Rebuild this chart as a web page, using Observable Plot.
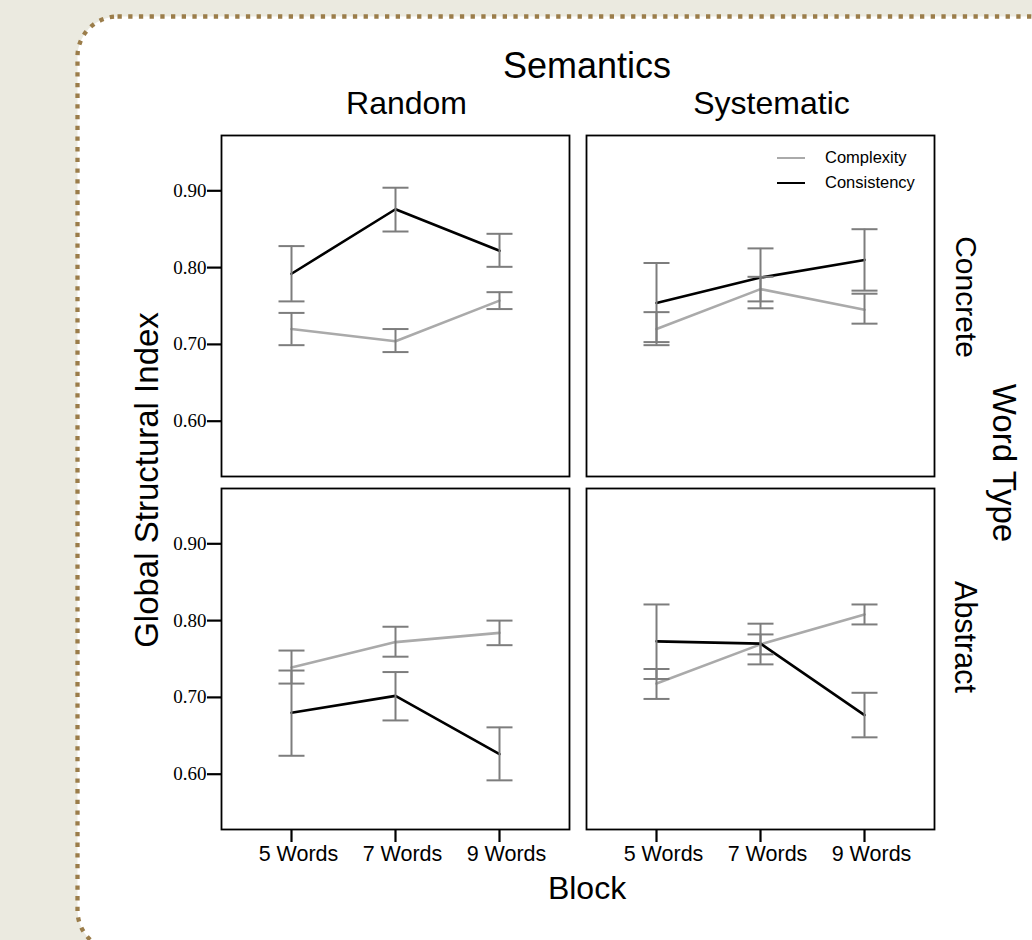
<!DOCTYPE html>
<html>
<head>
<meta charset="utf-8">
<script src="https://cdn.jsdelivr.net/npm/d3@7"></script>
<script src="https://cdn.jsdelivr.net/npm/@observablehq/plot@0.6"></script>
<style>
  html, body { margin: 0; padding: 0; }
  body { width: 1032px; height: 940px; background: #ebeae0; position: relative; overflow: hidden;
         font-family: "Liberation Sans", Arial, Helvetica, sans-serif; color: #000; }
  #bg { position: absolute; left: 0; top: 0; }
  #chart { position: absolute; left: 0; top: 0; }
  #chart svg { overflow: visible; }
  .lbl { position: absolute; white-space: nowrap; transform: translate(-50%, -50%); line-height: 1; }
  .rot90 { transform: translate(-50%, -50%) rotate(90deg); }
  .rotm90 { transform: translate(-50%, -50%) rotate(-90deg); }
  .legend { position: absolute; left: 777px; top: 145px; font-size: 16.5px; }
  .legend .row { display: flex; align-items: center; height: 25px; }
  .legend .sw { width: 28px; height: 0; border-top: 2.6px solid; margin-right: 20px; }
</style>
</head>
<body>
<svg id="bg" width="1032" height="940">
  <rect x="77.5" y="16.5" width="1100" height="934" rx="40" ry="40" fill="#ffffff"
        stroke="#9b7d4a" stroke-width="4.3" stroke-dasharray="4.3 6.4"/>
</svg>
<div id="chart"></div>
<div class="lbl" style="left:587px; top:66px; font-size:36px;">Semantics</div>
<div class="lbl" style="left:587px; top:888px; font-size:32px;">Block</div>
<div class="lbl rotm90" style="left:146px; top:480px; font-size:33px;">Global Structural Index</div>
<div class="lbl rot90" style="left:1004px; top:463px; font-size:33px;">Word Type</div>
<div class="lbl rot90" style="left:966px; top:297px; font-size:30px;">Concrete</div>
<div class="lbl rot90" style="left:966px; top:637px; font-size:30.5px;">Abstract</div>
<div class="legend">
  <div class="row"><span class="sw" style="border-color:#aaaaaa"></span><span>Complexity</span></div>
  <div class="row"><span class="sw" style="border-color:#000000"></span><span>Consistency</span></div>
</div>
<script>
// ---- data ----
const semantics = ["Random", "Systematic"];
const wordTypes = ["Concrete", "Abstract"];
const measures = ["Complexity", "Consistency"];
const blocks = ["5 Words", "7 Words", "9 Words"];
const yTicks = [0.60, 0.70, 0.80, 0.90];

// panel order: Random-Concrete, Systematic-Concrete, Random-Abstract, Systematic-Abstract (3 blocks each)
const panelSemantics = ["Random", "Systematic", "Random", "Systematic"];
const panelWordType = ["Concrete", "Concrete", "Abstract", "Abstract"];

const complexityMean = [0.720, 0.704, 0.757,  0.720, 0.772, 0.745,  0.739, 0.772, 0.784,  0.718, 0.769, 0.808];
const complexityLow  = [0.699, 0.690, 0.746,  0.699, 0.756, 0.727,  0.718, 0.753, 0.768,  0.698, 0.756, 0.795];
const complexityHigh = [0.741, 0.720, 0.768,  0.742, 0.788, 0.766,  0.761, 0.792, 0.800,  0.737, 0.782, 0.821];

const consistencyMean = [0.792, 0.876, 0.822,  0.754, 0.787, 0.810,  0.680, 0.702, 0.626,  0.773, 0.770, 0.677];
const consistencyLow  = [0.756, 0.847, 0.801,  0.703, 0.747, 0.770,  0.624, 0.670, 0.592,  0.724, 0.743, 0.648];
const consistencyHigh = [0.828, 0.904, 0.844,  0.806, 0.825, 0.850,  0.735, 0.733, 0.661,  0.821, 0.796, 0.706];

// ---- tidy table ----
const rows = [];
function addMeasure(name, mean, lo, hi) {
  mean.forEach((m, i) => {
    const p = Math.floor(i / 3);
    rows.push({
      sem: panelSemantics[p], wt: panelWordType[p], block: blocks[i % 3],
      measure: name, mean: m, lo: lo[i], hi: hi[i]
    });
  });
}
addMeasure("Complexity", complexityMean, complexityLow, complexityHigh);
addMeasure("Consistency", consistencyMean, consistencyLow, consistencyHigh);

const errColor = "#7d7d7d";
// horizontal cap symbol for error bars
const capSymbol = {
  draw(context, size) {
    const w = Math.sqrt(size / Math.PI);
    context.moveTo(-w, 0);
    context.lineTo(w, 0);
  }
};

const chart = Plot.plot({
  width: 1032,
  height: 940,
  marginLeft: 221,
  marginRight: 98,
  marginTop: 135,
  marginBottom: 111,
  style: { background: "transparent", fontFamily: "'Liberation Sans', Arial, Helvetica, sans-serif", color: "#000" },
  fx: { domain: semantics, paddingInner: 0.0466, paddingOuter: 0, round: false },
  fy: { domain: wordTypes, paddingInner: 0.034, paddingOuter: 0, round: false, axis: null },
  x: { type: "point", domain: blocks, padding: 0.673 },
  y: { domain: [0.528, 0.972] },
  color: { domain: measures, range: ["#aaaaaa", "#000000"] },
  marks: [
    Plot.frame({ stroke: "#000", strokeWidth: 1.8 }),
    Plot.axisFx({ anchor: "top", label: null, tickSize: 0, tickPadding: 22, fontSize: 32, dx: 11 }),
    Plot.axisY({ ticks: yTicks, tickFormat: d3.format(".2f"), tickSize: 14, tickPadding: 1,
                 fontSize: 19, fontFamily: "'Liberation Serif', 'Times New Roman', serif",
                 strokeWidth: 2.2, label: null, facetAnchor: "left" }),
    Plot.axisX({ text: null, tickSize: 13, strokeWidth: 2.2, label: null, facetAnchor: "bottom" }),
    Plot.axisX({ tickSize: 0, tickPadding: 16, fontSize: 21.5, dx: 7, label: null, facetAnchor: "bottom" }),
    Plot.line(rows, { fx: "sem", fy: "wt", x: "block", y: "mean", z: "measure", stroke: "measure", strokeWidth: 2.6 }),
    Plot.ruleX(rows, { fx: "sem", fy: "wt", x: "block", y1: "lo", y2: "hi", stroke: errColor, strokeWidth: 2 }),
    Plot.dot(rows, { fx: "sem", fy: "wt", x: "block", y: "lo", symbol: capSymbol, r: 13, fill: "none", stroke: errColor, strokeWidth: 2 }),
    Plot.dot(rows, { fx: "sem", fy: "wt", x: "block", y: "hi", symbol: capSymbol, r: 13, fill: "none", stroke: errColor, strokeWidth: 2 })
  ]
});
document.getElementById("chart").appendChild(chart);
</script>
</body>
</html>
